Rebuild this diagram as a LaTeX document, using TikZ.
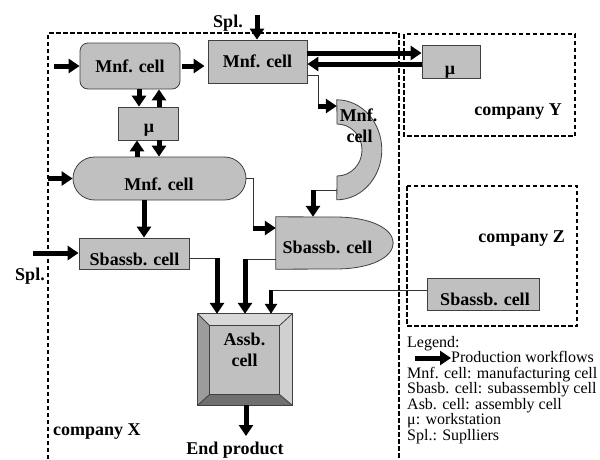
\documentclass[tikz,border=0pt]{standalone}
\usepackage{fontspec}
\setmainfont{Liberation Serif}
\usetikzlibrary{arrows.meta}
\definecolor{cellgray}{HTML}{C0C0C0}
\definecolor{boxline}{HTML}{404040}
\definecolor{linegray}{HTML}{333333}
\definecolor{bevtop}{HTML}{D8D8D8}
\definecolor{bevleft}{HTML}{9C9C9C}
\definecolor{bevright}{HTML}{D0D0D0}
\definecolor{bevbot}{HTML}{707070}
\begin{document}
\begin{tikzpicture}[x=1pt,y=-1pt,
  cell/.style={fill=cellgray, draw=boxline, line width=0.8pt, inner sep=0pt},
  lbl/.style={font=\fontsize{18}{20}\selectfont\bfseries, inner sep=0pt},
  leg/.style={font=\fontsize{16}{16}\selectfont, inner sep=0pt, anchor=base west},
  flow/.style={line width=5pt, -{Triangle[length=11pt,width=14pt]}},
  flowsm/.style={line width=4pt, -{Triangle[length=10pt,width=12pt]}},
  conn/.style={line width=0.8pt, draw=linegray},
  company/.style={line width=2pt, dash pattern=on 4.5pt off 2.5pt}
]
\useasboundingbox (0,0) rectangle (600,459);
% company frames
\draw[company] (48,459) -- (48,33) -- (399,33) -- (399,459);
\draw[company] (404,34) rectangle (575,136);
\draw[company] (407,186) rectangle (577,326);
\node[lbl, anchor=base west] (compX) at (53,435) {company X};
\node[lbl, anchor=base east] (compY) at (562,115) {company Y};
\node[lbl, anchor=base east] (compZ) at (565,242) {company Z};

% cells
\node[cell, rounded corners=8pt, minimum width=100pt, minimum height=46pt, lbl] (mnfA) at (130,66) {Mnf. cell};
\node[cell, minimum width=99pt, minimum height=43pt, lbl] (mnfB) at (257.5,61.5) {Mnf. cell};
\node[cell, minimum width=60pt, minimum height=33pt] (mu1) at (148,123.5) {};
\node[lbl, anchor=base] (mu1t) at (149,132) {μ};
\node[cell, rounded corners=21.5pt, minimum width=173pt, minimum height=43pt] (mnfC) at (159.5,178.5) {};
\node[lbl, anchor=base] (mnfCt) at (159,190) {Mnf. cell};
\node[cell, minimum width=110pt, minimum height=31pt] (sbA) at (134,253.5) {};
\node[lbl, anchor=base] (sbAt) at (134.5,265) {Sbassb. cell};
\node[cell, minimum width=58pt, minimum height=33pt] (muY) at (451,61.5) {};
\node[lbl, anchor=base] (muYt) at (450,74) {μ};
\node[cell, minimum width=112pt, minimum height=32pt] (sbZ) at (483,294) {};
\node[lbl, anchor=base] (sbZt) at (485,305) {Sbassb. cell};

% bullet-shaped subassembly cell
\node[minimum width=117pt, minimum height=52pt, inner sep=0pt] (sbB) at (334.5,243) {};
\draw[cell] (sbB.north west) -- (335,217) .. controls (372,217) and (393,229) .. (sbB.east)
  .. controls (393,257) and (372,269) .. (335,269) -- (sbB.south west) -- cycle;
\node[lbl, anchor=base] (sbBt) at (327.5,253) {Sbassb. cell};

% crescent manufacturing cell
\node[minimum width=45pt, minimum height=100pt, inner sep=0pt] (cres) at (359.5,150) {};
\draw[cell] (cres.north west) arc[start angle=90, end angle=-90, x radius=45pt, y radius=50pt]
  -- (337,176) arc[start angle=-90, end angle=90, x radius=25pt, y radius=26pt] -- cycle;
\node[lbl, anchor=base] (crest1) at (358.5,121) {Mnf.};
\node[lbl, anchor=base] (crest2) at (359.5,142) {cell};

% assembly cell (bevelled)
\node[minimum width=94pt, minimum height=91pt, inner sep=0pt] (assbO) at (245,359.5) {};
\node[minimum width=69pt, minimum height=68pt, inner sep=0pt] (assb) at (244.5,360) {};
\fill[bevtop] (assbO.north west) -- (assbO.north east) -- (assb.north east) -- (assb.north west) -- cycle;
\fill[bevleft] (assbO.north west) -- (assbO.south west) -- (assb.south west) -- (assb.north west) -- cycle;
\fill[bevright] (assbO.north east) -- (assbO.south east) -- (assb.south east) -- (assb.north east) -- cycle;
\fill[bevbot] (assbO.south west) -- (assbO.south east) -- (assb.south east) -- (assb.south west) -- cycle;
\fill[cellgray] (assb.north west) rectangle (assb.south east);
\draw[boxline, line width=0.8pt] (assbO.north west) rectangle (assbO.south east);
\draw[boxline, line width=0.8pt] (assb.north west) rectangle (assb.south east);
\draw[boxline, line width=0.8pt] (assbO.north west) -- (assb.north west)
  (assbO.north east) -- (assb.north east) (assbO.south west) -- (assb.south west)
  (assbO.south east) -- (assb.south east);
\node[lbl, anchor=base] (assbt1) at (244.5,345) {Assb.};
\node[lbl, anchor=base] (assbt2) at (244.5,366) {cell};

% supplier labels and end product
\node[lbl, anchor=base] (splT) at (228,27) {Spl.};
\node[lbl, anchor=base] (splL) at (30,280) {Spl.};
\node[lbl, anchor=base] (endp) at (235,454) {End product};

% production flows
\coordinate (s1) at (54,66);
\draw[flow] (s1) -- (s1 -| mnfA.west);
\draw[flow, shorten <=2pt, shorten >=3pt] (mnfA.east) -- (mnfA.east -| mnfB.west);
\coordinate (s2) at (257,15);
\draw[flow] (s2) -- (s2 |- mnfB.north);
\coordinate (m1) at ([xshift=-9pt]mu1.north);
\coordinate (m2) at ([xshift=11pt]mu1.north);
\coordinate (m3) at ([xshift=-11pt]mu1.south);
\coordinate (m4) at ([xshift=11pt]mu1.south);
\draw[flow] (m1 |- mnfA.south) -- (m1);
\draw[flow] (m2) -- (m2 |- mnfA.south);
\draw[flow] (m3 |- mnfC.north) -- (m3);
\draw[flow] (m4) -- (m4 |- mnfC.north);
\coordinate (s3) at (48,178.5);
\draw[flow] (s3) -- (s3 -| mnfC.west);
\coordinate (m5) at (144,220);
\draw[flow] (m5 |- mnfC.south) -- (m5 |- sbA.north);
\coordinate (s4) at (33,253);
\draw[flow] (s4) -- (s4 -| sbA.west);

% to assembly
\coordinate (b1) at (217,258);
\draw[conn] (b1 -| sbA.east) -- (b1);
\draw[flow] (b1) -- (b1 |- assbO.north);
\coordinate (b2) at (245,259);
\draw[conn] (b2 -| sbB.west) -- (b2);
\draw[flow] (b2) -- (b2 |- assbO.north);
\coordinate (b3) at (271,290);
\draw[conn] (b3 -| sbZ.west) -- (b3);
\draw[flowsm] (b3) -- (b3 |- assbO.north);
\coordinate (ep) at (246,436);
\draw[flow] (assbO.south -| ep) -- (ep);

% to/from company Y
\coordinate (p1) at ([yshift=8.5pt]mnfB.east);
\coordinate (p2) at ([yshift=-2.5pt]muY.west);
\draw[flow] (p1) -- (p1 -| muY.west);
\draw[flow] (p2) -- (p2 -| mnfB.east);

% to crescent
\coordinate (k1) at (318,75);
\coordinate (k2) at (318,106);
\draw[conn] (k1 -| mnfB.east) -- (k1) -- (k2);
\draw[flow] (k2) -- (k2 -| cres.west);
% crescent to sbB
\coordinate (k3) at (313,190);
\draw[conn] (k3 -| cres.west) -- (k3);
\draw[flow] (k3) -- (k3 |- sbB.north);
% mnfC to sbB
\coordinate (k4) at (253,228);
\draw[conn] (mnfC.east) -- (mnfC.east -| k4) -- (k4);
\draw[flow] (k4) -- (k4 -| sbB.west);

% legend
\node[leg] (lg1) at (407,347) {Legend:};
\node[leg] (lg2) at (451,362.5) {Production workflows};
\coordinate (la) at (415,358);
\draw[flow] (la) -- (la -| lg2.west);
\node[leg] (lg3) at (407,378) {Mnf. cell: manufacturing cell};
\node[leg] (lg4) at (407,393.5) {Sbasb. cell: subassembly cell};
\node[leg] (lg5) at (407,409) {Asb. cell: assembly cell};
\node[leg] (lg6) at (407,424.5) {μ: workstation};
\node[leg] (lg7) at (407,440) {Spl.: Suplliers};
\end{tikzpicture}
\end{document}
